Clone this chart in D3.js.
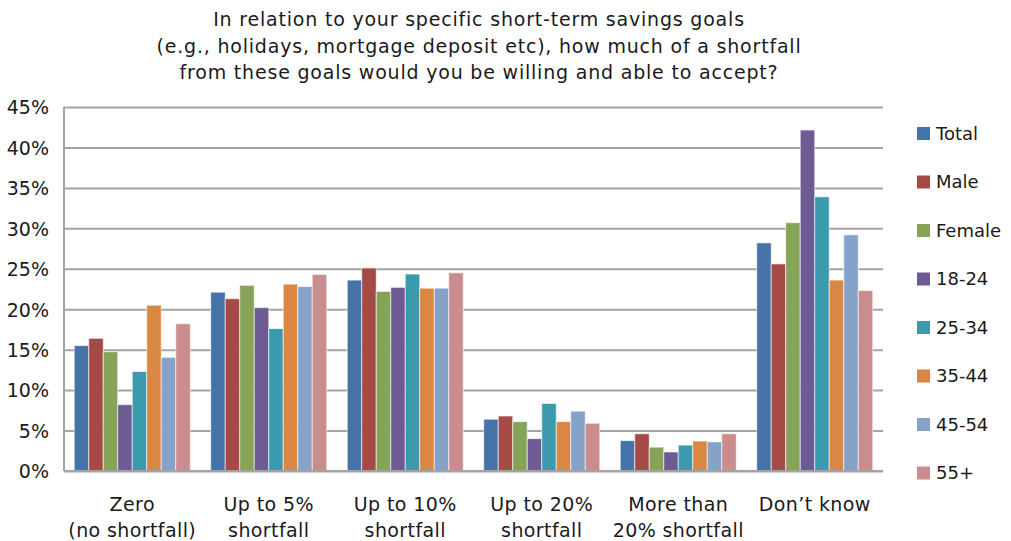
<!DOCTYPE html>
<head>
    <meta charset="utf-8">
    <script src="https://d3js.org/d3.v7.min.js"></script>
    <style>
        body {
            margin: 0;
            background-color: #fff;
        }

        text {
            font-family: "DejaVu Sans", "Liberation Sans", sans-serif;
            fill: #1a1a1a;
        }

        .title text {
            font-size: 19px;
            letter-spacing: 0.8px;
        }

        .grid line {
            stroke: #a3a3a5;
            stroke-width: 2px;
        }

        .grid path {
            display: none;
        }

        .axis path,
        .axis line {
            display: none;
        }

        .axis text {
            font-size: 19px;
        }

        .xlabel {
            font-size: 19px;
            letter-spacing: 0.4px;
        }

        .bar {
            stroke: rgba(255, 255, 255, 0.6);
            stroke-width: 1px;
        }
    </style>
</head>

<body>
    <script>
        var width = 1011,
            height = 541;

        var titleLines = [
            "In relation to your specific short-term savings goals",
            "(e.g., holidays, mortgage deposit etc), how much of a shortfall",
            "from these goals would you be willing and able to accept?"
        ];

        var categories = ["Zero", "Up to 5%", "Up to 10%", "Up to 20%", "More than 20%", "Don't know"];
        var categoryLabels = [
            ["Zero", "(no shortfall)"],
            ["Up to 5%", "shortfall"],
            ["Up to 10%", "shortfall"],
            ["Up to 20%", "shortfall"],
            ["More than", "20% shortfall"],
            ["Don\u2019t know", ""]
        ];

        var seriesNames = ["Total", "Male", "Female", "18-24", "25-34", "35-44", "45-54", "55+"];
        var seriesColors = ["#4573a7", "#a64a47", "#85a457", "#6f5b94", "#3c9aae", "#d98743", "#86a2c9", "#ca8c8c"];

        // percent values, one array per series, in category order
        var total = [15.5, 22.1, 23.6, 6.4, 3.75, 28.2];
        var male = [16.4, 21.3, 25.1, 6.8, 4.6, 25.6];
        var female = [14.75, 22.95, 22.2, 6.1, 2.95, 30.7];
        var age18 = [8.2, 20.2, 22.7, 4.0, 2.35, 42.15];
        var age25 = [12.3, 17.6, 24.35, 8.35, 3.2, 33.9];
        var age35 = [20.5, 23.1, 22.6, 6.1, 3.7, 23.6];
        var age45 = [14.05, 22.8, 22.6, 7.4, 3.6, 29.2];
        var age55 = [18.2, 24.3, 24.5, 5.9, 4.6, 22.3];

        var seriesValues = [total, male, female, age18, age25, age35, age45, age55];

        var yTicks = [0, 5, 10, 15, 20, 25, 30, 35, 40, 45];

        var margin = { left: 64, right: 128, top: 107, bottom: 70 };
        var plotW = width - margin.left - margin.right,
            plotH = height - margin.top - margin.bottom;

        var svg = d3.select("body").append("svg")
            .attr("width", width)
            .attr("height", height);

        svg.append("g")
            .attr("class", "title")
            .selectAll("text")
            .data(titleLines)
            .enter().append("text")
            .attr("x", 479)
            .attr("y", function(d, i) { return 26 + i * 26.5; })
            .attr("text-anchor", "middle")
            .text(function(d) { return d; });

        var x0 = d3.scaleBand()
            .domain(categories)
            .range([0, plotW])
            .paddingInner(0.15)
            .paddingOuter(0.075);

        var x1 = d3.scaleBand()
            .domain(seriesNames)
            .range([0, x0.bandwidth()]);

        var y = d3.scaleLinear()
            .domain([0, 45])
            .range([plotH, 0]);

        var g = svg.append("g")
            .attr("transform", "translate(" + margin.left + "," + margin.top + ")");

        g.append("g")
            .attr("class", "grid")
            .call(d3.axisLeft(y).tickValues(yTicks).tickSize(-plotW).tickFormat(""));

        g.append("line")
            .attr("x1", 0).attr("x2", 0)
            .attr("y1", 0).attr("y2", plotH)
            .attr("stroke", "#a3a3a5")
            .attr("stroke-width", 2);

        g.append("g")
            .attr("class", "axis")
            .attr("transform", "translate(-12,0)")
            .call(d3.axisLeft(y).tickValues(yTicks).tickSize(0).tickFormat(function(d) { return d + "%"; }))
            .selectAll("text")
            .attr("dy", "0.36em");

        var groups = g.append("g")
            .selectAll("g")
            .data(categories)
            .enter().append("g")
            .attr("transform", function(d) { return "translate(" + x0(d) + ",0)"; });

        groups.selectAll("rect")
            .data(function(d, ci) {
                return seriesNames.map(function(s, si) {
                    return { series: s, color: seriesColors[si], value: seriesValues[si][ci] };
                });
            })
            .enter().append("rect")
            .attr("class", "bar")
            .attr("x", function(d) { return x1(d.series); })
            .attr("y", function(d) { return y(d.value); })
            .attr("width", x1.bandwidth())
            .attr("height", function(d) { return plotH - y(d.value); })
            .attr("fill", function(d) { return d.color; });

        // x axis baseline over the bars
        g.append("line")
            .attr("x1", 0).attr("x2", plotW)
            .attr("y1", plotH).attr("y2", plotH)
            .attr("stroke", "#a3a3a5")
            .attr("stroke-width", 2);

        var xLabels = g.append("g")
            .selectAll("text")
            .data(categories)
            .enter().append("text")
            .attr("class", "xlabel")
            .attr("x", function(d) { return x0(d) + x0.bandwidth() / 2; })
            .attr("y", plotH + 40)
            .attr("text-anchor", "middle");

        xLabels.selectAll("tspan")
            .data(function(d, i) { return categoryLabels[i]; })
            .enter().append("tspan")
            .attr("x", function() { return d3.select(this.parentNode).attr("x"); })
            .attr("dy", function(d, i) { return i === 0 ? 0 : 26; })
            .text(function(d) { return d; });

        var legend = svg.append("g")
            .attr("transform", "translate(917,127)");

        var items = legend.selectAll("g")
            .data(seriesNames)
            .enter().append("g")
            .attr("transform", function(d, i) { return "translate(0," + i * 48.5 + ")"; });

        items.append("rect")
            .attr("width", 13)
            .attr("height", 13)
            .attr("fill", function(d, i) { return seriesColors[i]; });

        items.append("text")
            .attr("x", 19)
            .attr("y", 6.5)
            .attr("dy", "0.36em")
            .style("font-size", "18px")
            .text(function(d) { return d; });
    </script>
</body>
